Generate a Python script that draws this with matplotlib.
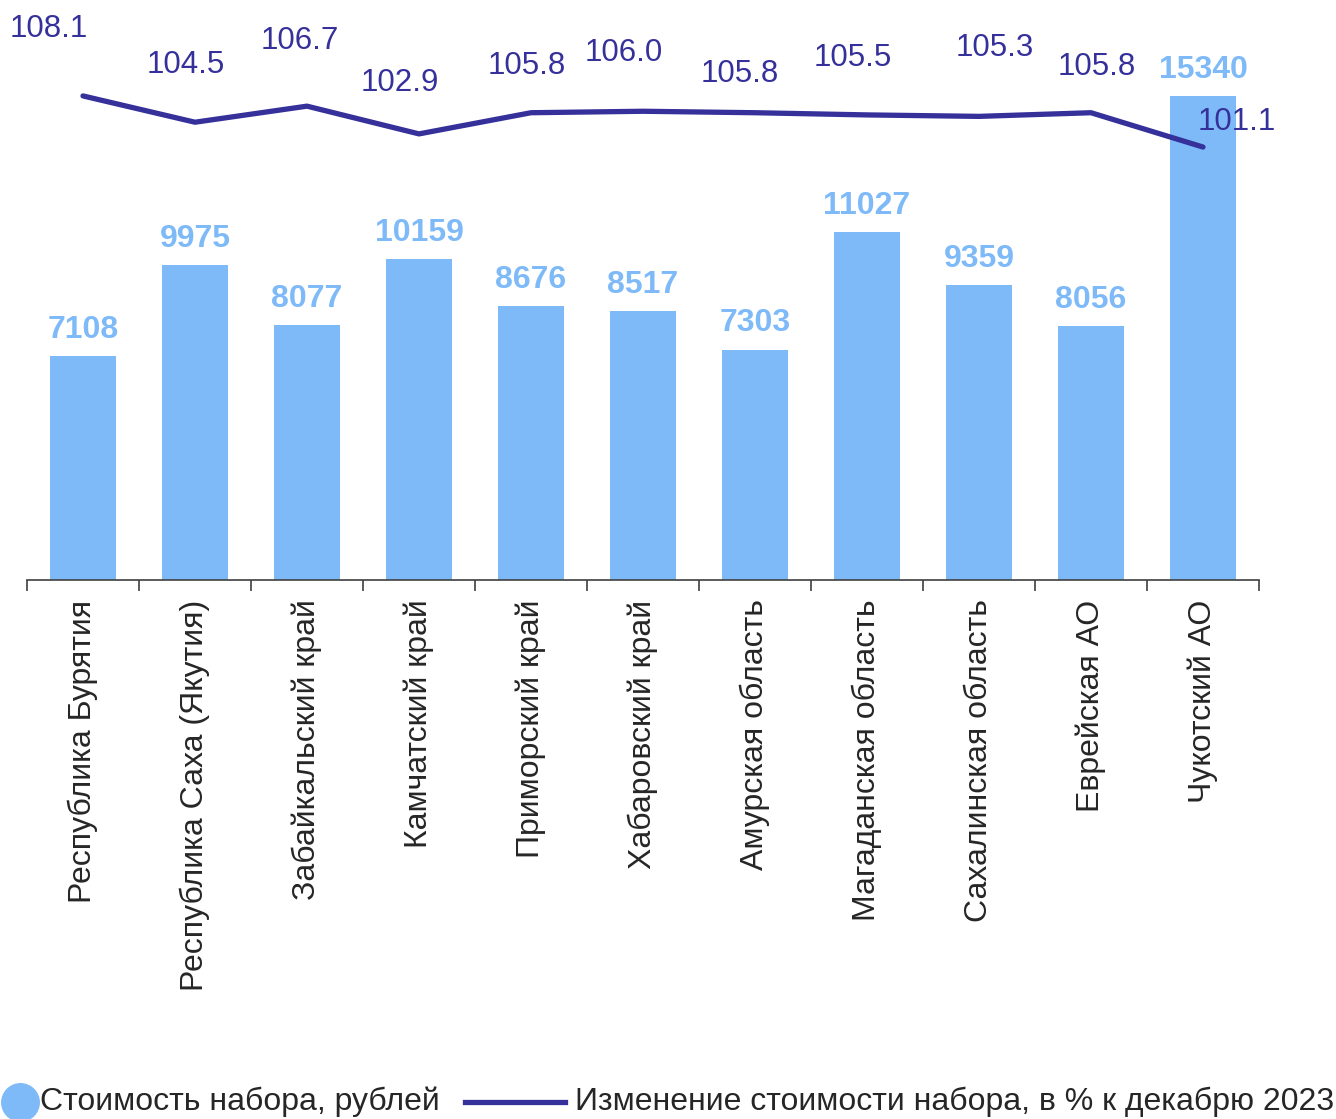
import matplotlib.pyplot as plt
from matplotlib.lines import Line2D

plt.rcParams['font.family'] = ['Liberation Sans', 'DejaVu Sans']

regions = ["Республика Бурятия", "Республика Саха (Якутия)", "Забайкальский край",
           "Камчатский край", "Приморский край", "Хабаровский край", "Амурская область",
           "Магаданская область", "Сахалинская область", "Еврейская АО", "Чукотский АО"]
cost = [7108, 9975, 8077, 10159, 8676, 8517, 7303, 11027, 9359, 8056, 15340]
change = [108.1, 104.5, 106.7, 102.9, 105.8, 106.0, 105.8, 105.5, 105.3, 105.8, 101.1]
legend_labels = ["Стоимость набора, рублей", "Изменение стоимости набора, в % к декабрю 2023"]
# label offsets for the line values (points)
lab_dx = [-25, -7, -5, -14, -3, -14, -11, -10, 11, 4, 24]
lab_dy = [48, 41, 47, 37, 34, 42, 28, 41, 49, 33, 18]

bar_color = "#7FBAF8"
line_color = "#35309A"
W, H = 1336, 1119

fig = plt.figure(figsize=(W / 100, H / 100), dpi=100)
ax = fig.add_axes([27 / W, (H - 580) / H, (1259 - 27) / W, 560 / H])
x = list(range(len(regions)))
ax.bar(x, cost, width=0.59, color=bar_color)
for xi, v in zip(x, cost):
    ax.annotate(str(v), (xi, v), xytext=(0, 8), textcoords="offset points",
                ha="center", va="bottom", fontsize=23, fontweight="bold", color=bar_color)
ax.set_xlim(-0.5, len(regions) - 0.5)
ax.set_ylim(0, 17750)
ax.set_yticks([])
for s in ["top", "right", "left"]:
    ax.spines[s].set_visible(False)
ax.spines["bottom"].set_color("#404040")
ax.spines["bottom"].set_linewidth(1.2)
ax.set_xticks(x)
ax.set_xticklabels(regions, rotation=90, fontsize=23, color="#262626")
ax.tick_params(axis="x", which="major", length=0, pad=14)
ax.set_xticks([i - 0.5 for i in range(len(regions) + 1)], minor=True)
ax.tick_params(axis="x", which="minor", length=8, color="#404040", width=1.2)

ax2 = ax.twinx()
ax2.plot(x, change, color=line_color, linewidth=3.8, solid_capstyle="round")
ax2.set_ylim(41.8, 118.5)
ax2.set_yticks([])
for s in ["top", "right", "left", "bottom"]:
    ax2.spines[s].set_visible(False)
for xi, v, dx, dy in zip(x, change, lab_dx, lab_dy):
    ax2.annotate(f"{v:.1f}", (xi, v), xytext=(dx, dy), textcoords="offset points",
                 ha="center", va="center", fontsize=22.5, color=line_color)

# legend drawn by hand at the bottom
ly = (H - 1102) / H
fig.add_artist(Line2D([20 / W], [ly], marker="o", markersize=27, color=bar_color,
                      linestyle="none", transform=fig.transFigure))
fig.text(40 / W, ly, legend_labels[0], fontsize=23, color="#262626", va="center", ha="left")
fig.add_artist(Line2D([465 / W, 565 / W], [ly, ly], color=line_color, linewidth=3.8,
                      transform=fig.transFigure))
fig.text(575 / W, ly, legend_labels[1], fontsize=23, color="#262626", va="center", ha="left")

fig.savefig("out.png", dpi=100)
